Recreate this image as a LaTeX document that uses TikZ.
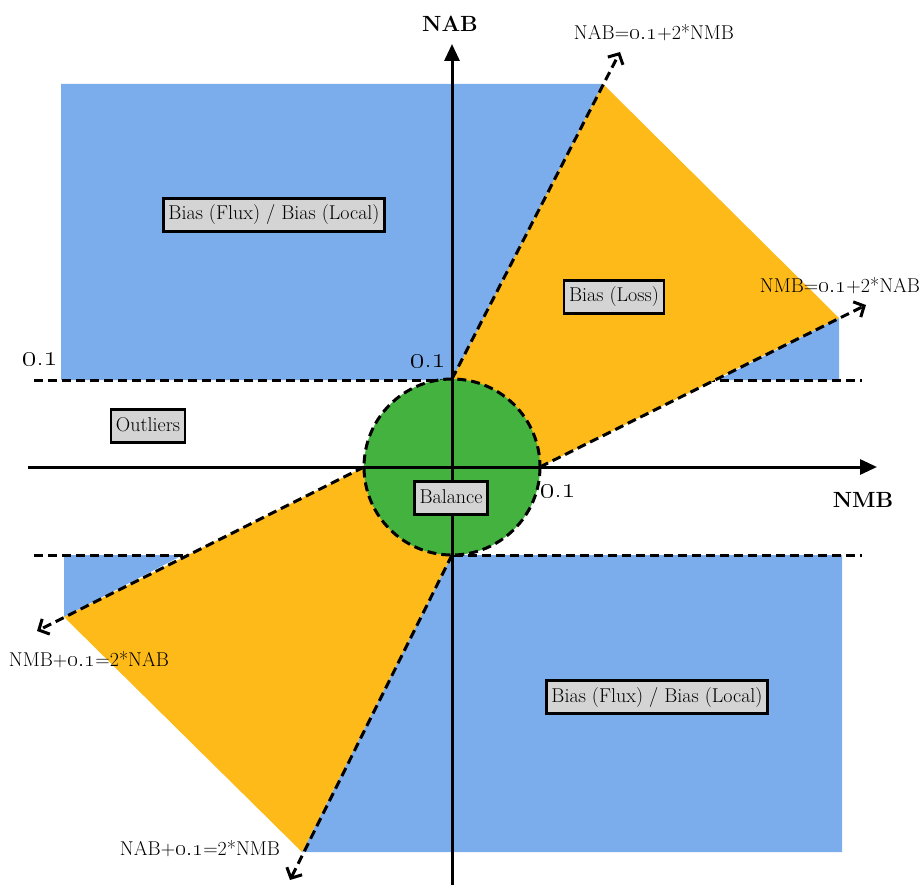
\documentclass[tikz,border=0pt]{standalone}
\usetikzlibrary{arrows.meta}
\definecolor{biasblue}{HTML}{7BACEB}
\definecolor{lossorange}{HTML}{FDBA19}
\definecolor{balgreen}{HTML}{43B23E}
\definecolor{boxgray}{HTML}{D4D4D4}
% old-style figures, brought up to the height of the surrounding text
\newcommand{\osn}[2][1.15]{\scalebox{#1}{\oldstylenums{#2}}}
\begin{document}
\begin{tikzpicture}[x=1pt,y=-1pt,
  lbl/.style={draw=black, line width=2.6pt, fill=boxgray, inner xsep=5pt,
              inner ysep=7.5pt, text height=14pt, text depth=4pt,
              font=\fontsize{20}{24}\selectfont},
  eqtext/.style={inner sep=0pt, font=\fontsize{20}{24}\selectfont},
  axtext/.style={inner sep=0pt, font=\fontsize{22}{26}\selectfont\bfseries},
  ticktext/.style={inner sep=0pt, font=\fontsize{20}{24}\selectfont\bfseries},
  bnd/.style={line width=3pt, dash pattern=on 9pt off 5pt},
  ray/.style={bnd, -{Straight Barb[length=8pt,width=17pt,line width=3pt]}},
  axis/.style={line width=3pt, -{Triangle[length=17pt,width=15pt]}}]
\useasboundingbox (0,0) rectangle (921,885);

% bias regions (outside the loss wedges)
\fill[biasblue] (61,84) -- (603,84) -- (452,380) -- (61,380) -- cycle;
\fill[biasblue] (717,380) -- (839,318) -- (839,380) -- cycle;
\fill[biasblue] (64,555) -- (183,555) -- (64,617) -- cycle;
\fill[biasblue] (452,555) -- (842,555) -- (842,852) -- (302,852) -- cycle;

% threshold lines
\coordinate (hl1) at (34,380);  \coordinate (hr1) at (862,380);
\coordinate (hl2) at (34,555);  \coordinate (hr2) at (862,555);
\draw[bnd] (hl1) -- (hr1);
\draw[bnd] (hl2) -- (hr2);

% loss wedges between the two lines
\fill[lossorange] (452,380) -- (603,84) -- (839,318) -- (540,467) -- (452,467) -- cycle;
\fill[lossorange] (364,467) -- (64,617) -- (302,852) -- (452,555) -- (452,467) -- cycle;

% key points
\coordinate (top) at (452,379);
\coordinate (right) at (540,467);
\coordinate (left) at (364,467);
\coordinate (bottom) at (452,555);
\coordinate (ur1) at (620,52);
\coordinate (ur2) at (866,305);
\coordinate (ll1) at (37,631);
\coordinate (ll2) at (290,880);

% balance disc
\fill[balgreen] (452,467) circle (88);

% boundary rays
\draw[ray] (top) -- (ur1);
\draw[ray] (right) -- (ur2);
\draw[ray] (left) -- (ll1);
\draw[ray] (bottom) -- (ll2);

\draw[bnd] (452,467) circle (88);

% axes
\coordinate (xs) at (28,467);  \coordinate (xe) at (877,467);
\coordinate (ys) at (452,885); \coordinate (ye) at (452,44);
\draw[axis] (xs) -- (xe);
\draw[axis] (ys) -- (ye);

% region labels
\node[lbl] (fluxtop) at (274,215) {Bias (Flux) / Bias (Local)};
\node[lbl] (fluxbot) at (657,697) {Bias (Flux) / Bias (Local)};
\node[lbl] (loss) at (614,297) {Bias (Loss)};
\node[lbl] (outl) at (148,426) {Outliers};
\node[lbl] (bal) at (451,498) {Balance};

% axis and line labels
\node[axtext] (nab) at (450,24) {NAB};
\node[axtext] (nmb) at (863,500) {NMB};
\node[eqtext] (eq1) at (654,33) {NAB=\osn{0.1}+2*NMB};
\node[eqtext] (eq2) at (840,286) {NMB=\osn{0.1}+2*NAB};
\node[eqtext] (eq3) at (89,660) {NMB+\osn{0.1}=2*NAB};
\node[eqtext] (eq4) at (200,849) {NAB+\osn{0.1}=2*NMB};
\node[ticktext] (t1) at (40,359) {\osn[1.45]{0.1}};
\node[ticktext] (t2) at (428,361) {\osn[1.45]{0.1}};
\node[ticktext] (t3) at (558,491) {\osn[1.45]{0.1}};
\end{tikzpicture}
\end{document}
